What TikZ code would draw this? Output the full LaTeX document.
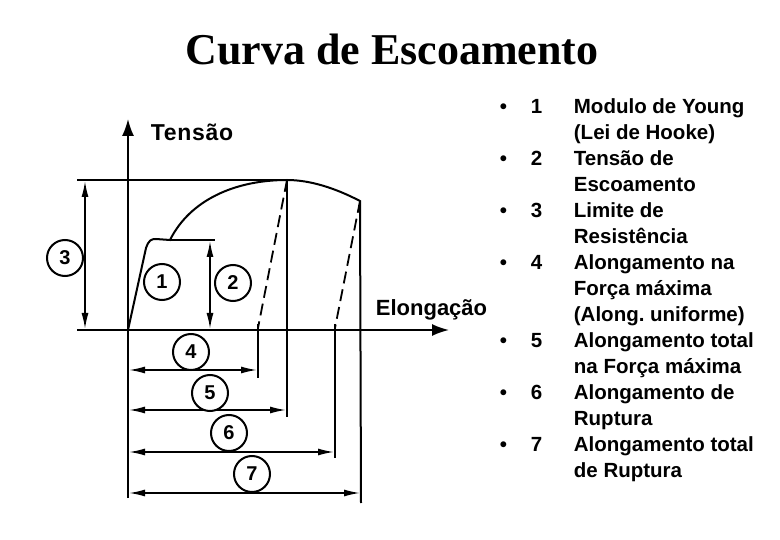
\documentclass[tikz,border=0pt]{standalone}
\usepackage{fontspec}
\setmainfont{Liberation Sans}
\newfontfamily\titlefont{Liberation Serif}
\newfontfamily\widefont{Liberation Sans}[LetterSpace=3.0]
\usetikzlibrary{arrows.meta}
\frenchspacing

\tikzset{
  numcirc/.style={circle,draw,line width=2pt,fill=white,minimum size=36pt,inner sep=0pt,font=\fontsize{20}{20}\selectfont\bfseries},
  dimarrow/.style={line width=1.6pt,{Latex[length=16pt,width=7pt]}-{Latex[length=16pt,width=7pt]}},
  listtxt/.style={anchor=base west,inner sep=0pt,font=\fontsize{20.5}{20.5}\selectfont\bfseries},
}

\begin{document}
\begin{tikzpicture}[x=1pt,y=1pt,yscale=-1,line width=1.8pt]
	\useasboundingbox (0,0) rectangle (780,540);

	% points of the curve
	\coordinate (orig) at (128,330);
	\coordinate (ytop) at (128,119);
	\coordinate (ybot) at (128,498);
	\coordinate (xleft) at (77,330);
	\coordinate (xright) at (449,330);
	\coordinate (yield) at (170,240);
	\coordinate (yieldend) at (215,240);
	\coordinate (peak) at (287,180);
	\coordinate (rupt) at (360,201);
	\coordinate (toplft) at (77,180);

	\draw [-{Latex[length=17pt,width=12pt]}] (ybot) -- (ytop);
	\draw [-{Latex[length=17pt,width=12pt]}] (xleft) -- (xright);
	\draw (toplft) -- (peak);

	\draw [line width=2pt] (orig) -- (146,248) .. controls (149,240) and (151,239) .. (156,239) -- (yield) .. controls (190,200) and (235,180) .. (peak) .. controls (310,180) and (335,188) .. (rupt) -- (361,503);
	\draw (yield) -- (yieldend);
	\draw (peak) -- (287,417);

	\draw [dashed,dash pattern=on 12pt off 6pt] (peak) -- (258,328);
	\draw (258,324) -- (258,378);
	\draw [dashed,dash pattern=on 12pt off 6pt] (rupt) -- (335,328);
	\draw (335,324) -- (335,458);

	% dimension arrows
	\draw [dimarrow] (85,181) -- (85,329);
	\draw [dimarrow] (210,241) -- (210,329);
	\draw [dimarrow] (129,370) -- (257,370);
	\draw [dimarrow] (129,410) -- (286,410);
	\draw [dimarrow] (129,452) -- (334,452);
	\draw [dimarrow] (129,493) -- (360,493);

	\node [numcirc] (c1) at (162,282) {1};
	\node [numcirc] (c2) at (233,283) {2};
	\node [numcirc] (c3) at (65,258) {3};
	\node [numcirc] (c4) at (191,352) {4};
	\node [numcirc] (c5) at (210,393) {5};
	\node [numcirc] (c6) at (229,433) {6};
	\node [numcirc] (c7) at (252,474) {7};

	\node [anchor=base west,inner sep=0pt,font=\widefont\fontsize{23}{23}\selectfont\bfseries] (tensao) at (150,141) {Tensão};
	\node [anchor=base west,inner sep=0pt,font=\fontsize{22}{22}\selectfont\bfseries] (elong) at (375,316) {Elongação};

	\node [anchor=base,inner sep=0pt,font=\titlefont\fontsize{44}{44}\selectfont\bfseries] (title) at (392,65) {Curva de Escoamento};

	% legend
	\foreach \n/\row in {1/0,2/2,3/4,4/6,5/9,6/11,7/13}{
		\node [listtxt] (bul\n) at (499,{114+25.93*\row}) {•};
		\node [listtxt] (num\n) at (530,{114+25.93*\row}) {\n};
	}
	\foreach \row/\txt in {0/Modulo de Young,1/(Lei de Hooke),2/Tensão de,3/Escoamento,4/Limite de,5/Resistência,6/Alongamento na,7/Força máxima,8/(Along. uniforme),9/Alongamento total,10/na Força máxima,11/Alongamento de,12/Ruptura,13/Alongamento total,14/de Ruptura}{
		\node [listtxt] (ln\row) at (573,{114+25.93*\row}) {\txt};
	}
\end{tikzpicture}
\end{document}
